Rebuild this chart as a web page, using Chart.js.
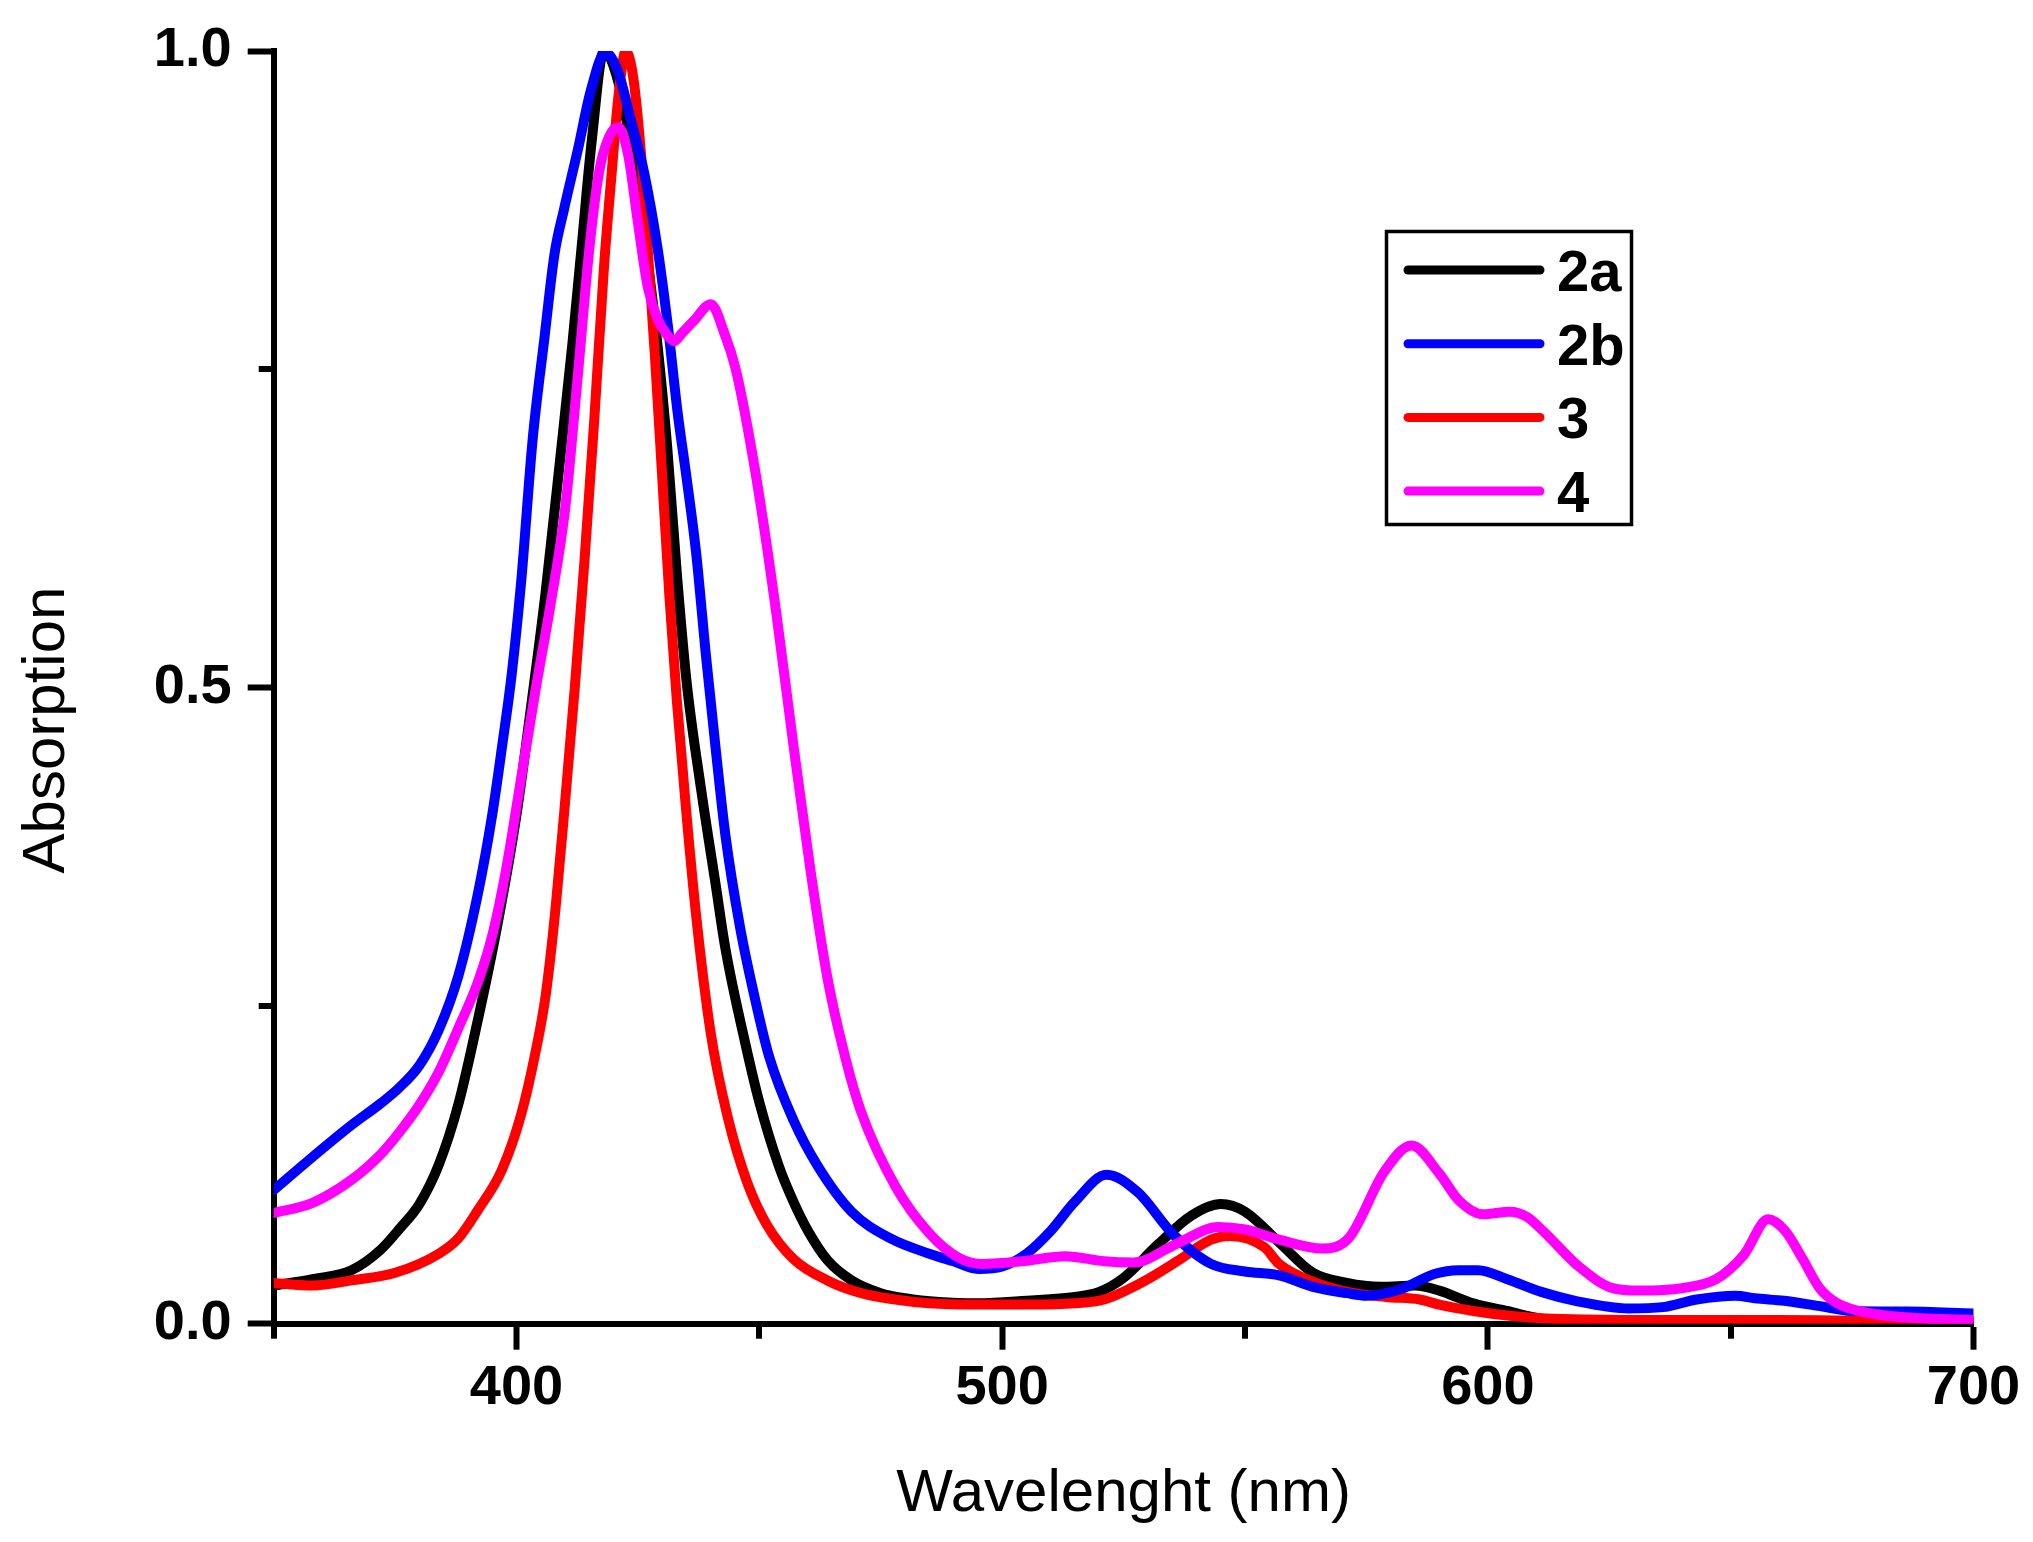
<!DOCTYPE html>
<html>
<head>
<meta charset="utf-8">
<script src="https://cdn.jsdelivr.net/npm/chart.js@4.4.1/dist/chart.umd.min.js"></script>
<style>
html,body{margin:0;padding:0;background:#ffffff;}
#wrap{width:2033px;height:1542px;position:relative;}
</style>
</head>
<body>
<div id="wrap"><canvas id="c" width="2033" height="1542"></canvas></div>
<script>
// ---- data ----
const seriesNames = ['2a', '2b', '3', '4'];
const seriesColors = ['#000000', '#0000ff', '#ff0000', '#ff00ff'];

const wl2a = [350, 358, 366, 372, 376, 380, 384, 388, 392, 396, 400, 403, 406, 409, 411.5, 413.5, 415.5, 418, 421, 424, 427, 429, 431, 433, 435, 438, 441, 443, 447, 450, 454, 457, 460, 464, 469, 475, 480, 487, 495, 505, 515, 520, 525, 532, 539, 545, 550, 557, 564, 571, 578, 585, 590, 597, 604, 611, 620, 640, 670, 700];
const abs2a = [0.030, 0.035, 0.042, 0.058, 0.075, 0.094, 0.125, 0.172, 0.238, 0.312, 0.400, 0.485, 0.575, 0.680, 0.770, 0.850, 0.930, 1.000, 0.975, 0.915, 0.835, 0.770, 0.690, 0.590, 0.505, 0.420, 0.345, 0.295, 0.222, 0.174, 0.124, 0.096, 0.073, 0.050, 0.034, 0.024, 0.020, 0.017, 0.016, 0.018, 0.021, 0.025, 0.036, 0.062, 0.085, 0.094, 0.088, 0.064, 0.040, 0.032, 0.029, 0.030, 0.026, 0.016, 0.010, 0.004, 0.002, 0.001, 0.001, 0.001];

const wl2b = [350, 358, 366, 372, 376, 380, 384, 388, 392, 395, 397, 399, 401, 403.3, 405.7, 407.8, 409.8, 412.6, 415.3, 418.3, 420.8, 423.6, 426.3, 429, 431.1, 433.2, 435, 437, 439, 441, 443, 446, 449, 452, 457, 462, 469, 477, 485, 490, 495, 500, 505, 510, 515, 521.5, 528, 535, 543, 550, 557, 564, 571, 575, 582, 589, 594, 598, 604, 611, 618, 629, 636, 643, 651, 655, 661, 668, 675, 686, 700];
const abs2b = [0.105, 0.131, 0.156, 0.173, 0.186, 0.203, 0.231, 0.273, 0.337, 0.400, 0.453, 0.510, 0.585, 0.694, 0.773, 0.840, 0.876, 0.922, 0.969, 0.999, 0.985, 0.945, 0.904, 0.846, 0.786, 0.715, 0.665, 0.605, 0.525, 0.452, 0.384, 0.312, 0.257, 0.210, 0.160, 0.124, 0.088, 0.067, 0.055, 0.049, 0.043, 0.045, 0.055, 0.073, 0.096, 0.117, 0.103, 0.071, 0.047, 0.041, 0.038, 0.029, 0.024, 0.022, 0.027, 0.039, 0.042, 0.042, 0.035, 0.025, 0.018, 0.012, 0.013, 0.019, 0.022, 0.020, 0.018, 0.014, 0.010, 0.0095, 0.008];

const wl3 = [350, 358, 366, 375, 384, 388, 392, 397, 401, 404, 406, 408, 410, 412, 414, 416, 418, 419.5, 421, 422.5, 424, 425.5, 427, 428.5, 430, 431.5, 433, 435, 437, 440, 443.5, 447.5, 451.5, 457, 464, 471, 478, 485, 495, 505, 515, 521, 526, 530, 536, 543, 547, 554, 557, 564, 571, 579, 586, 590, 597, 605, 612, 630, 660, 700];
const abs3 = [0.032, 0.030, 0.034, 0.040, 0.055, 0.067, 0.089, 0.121, 0.165, 0.215, 0.258, 0.325, 0.410, 0.500, 0.600, 0.710, 0.830, 0.900, 0.965, 1.000, 0.980, 0.925, 0.845, 0.760, 0.665, 0.570, 0.490, 0.400, 0.320, 0.228, 0.162, 0.111, 0.078, 0.051, 0.034, 0.024, 0.019, 0.016, 0.015, 0.015, 0.016, 0.019, 0.027, 0.035, 0.049, 0.066, 0.069, 0.060, 0.047, 0.033, 0.025, 0.021, 0.019, 0.015, 0.010, 0.006, 0.004, 0.003, 0.003, 0.001];

const wl4 = [350, 358, 366, 372, 376, 380, 384, 388, 392, 395, 398, 401, 404, 407, 410, 412.5, 415, 417, 419, 421, 423, 425, 427, 429, 431, 432.5, 434, 436.5, 440, 443, 445, 447, 450, 453.5, 457, 460.5, 464, 467.5, 471, 478, 485, 491, 496, 504, 513, 521, 527, 536, 544.5, 550, 557, 566, 571.5, 578.6, 584.3, 590, 594, 599, 604.5, 608, 611.6, 618.7, 625.7, 631.4, 640, 647, 652.7, 657.7, 661.2, 664.8, 668.3, 672, 679, 690, 700];
const abs4 = [0.087, 0.095, 0.113, 0.133, 0.151, 0.172, 0.198, 0.232, 0.268, 0.305, 0.360, 0.430, 0.500, 0.565, 0.640, 0.740, 0.845, 0.905, 0.932, 0.940, 0.918, 0.865, 0.815, 0.790, 0.777, 0.772, 0.778, 0.788, 0.801, 0.776, 0.752, 0.716, 0.650, 0.558, 0.455, 0.357, 0.272, 0.212, 0.166, 0.108, 0.071, 0.052, 0.047, 0.049, 0.053, 0.049, 0.048, 0.063, 0.076, 0.074, 0.066, 0.059, 0.068, 0.119, 0.140, 0.118, 0.097, 0.086, 0.088, 0.084, 0.072, 0.045, 0.028, 0.026, 0.028, 0.035, 0.054, 0.082, 0.073, 0.051, 0.028, 0.016, 0.008, 0.004, 0.003];

const xMajorTicks = [400, 500, 600, 700];
const xMinorTicks = [350, 450, 550, 650];
const yMajorTicks = [0.0, 0.5, 1.0];
const yMinorTicks = [0.25, 0.75];
const xTitle = 'Wavelenght (nm)';
const yTitle = 'Absorption';

// ---- chart ----
const FONT = '"Liberation Sans", Arial, Helvetica, sans-serif';
const wlList = [wl2a, wl2b, wl3, wl4];
const absList = [abs2a, abs2b, abs3, abs4];
const drawOrder = [3, 1, 2, 0]; // 4 on top, then 2b, 3, 2a

const datasets = seriesNames.map((name, i) => ({
  label: name,
  data: wlList[i].map((w, j) => ({x: w, y: absList[i][j]})),
  borderColor: seriesColors[i],
  backgroundColor: seriesColors[i],
  borderWidth: 10,
  pointRadius: 0,
  fill: false,
  cubicInterpolationMode: 'monotone',
  borderJoinStyle: 'round',
  borderCapStyle: 'round',
  order: drawOrder[i]
}));

const extrasPlugin = {
  id: 'extras',
  afterDraw(chart) {
    const ctx = chart.ctx;
    const xs = chart.scales.x, ys = chart.scales.y;
    const ca = chart.chartArea;
    ctx.save();
    // minor ticks
    ctx.strokeStyle = '#000';
    ctx.lineWidth = 6;
    ctx.lineCap = 'butt';
    xMinorTicks.forEach(v => {
      const px = Math.round(xs.getPixelForValue(v));
      ctx.beginPath();
      ctx.moveTo(px, ca.bottom);
      ctx.lineTo(px, ca.bottom + 15);
      ctx.stroke();
    });
    yMinorTicks.forEach(v => {
      const py = Math.round(ys.getPixelForValue(v));
      ctx.beginPath();
      ctx.moveTo(ca.left, py);
      ctx.lineTo(ca.left - 15, py);
      ctx.stroke();
    });
    // y title
    ctx.fillStyle = '#000';
    ctx.font = '60px ' + FONT;
    ctx.textAlign = 'center';
    ctx.textBaseline = 'alphabetic';
    ctx.translate(64, 730);
    ctx.rotate(-Math.PI / 2);
    ctx.fillText(yTitle, 0, 0);
    ctx.restore();

    // legend
    ctx.save();
    const bx = 1385, by = 230, bw = 248, bh = 296;
    ctx.strokeStyle = '#000';
    ctx.lineWidth = 3.5;
    ctx.strokeRect(bx + 1.5, by + 1.5, bw - 3, bh - 3);
    ctx.font = 'bold 58px ' + FONT;
    ctx.textAlign = 'left';
    ctx.textBaseline = 'alphabetic';
    chart.data.datasets.forEach((ds, i) => {
      const ry = 270 + i * 73.7;
      ctx.strokeStyle = ds.borderColor;
      ctx.lineWidth = 9;
      ctx.lineCap = 'round';
      ctx.beginPath();
      ctx.moveTo(1408, ry);
      ctx.lineTo(1540, ry);
      ctx.stroke();
      ctx.fillStyle = '#000';
      ctx.fillText(ds.label, 1557, ry + 21);
    });
    ctx.restore();
  }
};

new Chart(document.getElementById('c'), {
  type: 'line',
  data: { datasets },
  options: {
    responsive: false,
    devicePixelRatio: 1,
    animation: false,
    events: [],
    layout: { padding: { top: 51, right: 59.5, bottom: 0, left: 0 } },
    plugins: { legend: { display: false }, title: { display: false }, tooltip: { enabled: false } },
    scales: {
      x: {
        type: 'linear',
        position: 'bottom',
        min: 350,
        max: 700,
        afterBuildTicks: (s) => { s.ticks = xMajorTicks.map(v => ({ value: v })); },
        afterFit: (s) => { s.height = 218.3; },
        border: { display: true, width: 6, color: '#000' },
        grid: { drawOnChartArea: false, drawTicks: true, tickLength: 26, tickWidth: 6, tickColor: '#000' },
        ticks: {
          color: '#000',
          padding: 5,
          maxRotation: 0,
          font: { family: FONT, size: 56, weight: 'bold' },
          callback: (v) => String(v)
        },
        title: {
          display: true,
          text: xTitle,
          color: '#000',
          font: { family: FONT, size: 60, weight: 'normal' },
          padding: { top: 0, bottom: 12 }
        }
      },
      y: {
        type: 'linear',
        position: 'left',
        min: 0,
        max: 1,
        afterBuildTicks: (s) => { s.ticks = yMajorTicks.map(v => ({ value: v })); },
        afterFit: (s) => { s.width = 273.7; },
        border: { display: true, width: 6, color: '#000' },
        grid: { drawOnChartArea: false, drawTicks: true, tickLength: 26, tickWidth: 6, tickColor: '#000' },
        ticks: {
          color: '#000',
          padding: 16,
          font: { family: FONT, size: 56, weight: 'bold' },
          callback: (v) => Number(v).toFixed(1)
        },
        title: { display: false }
      }
    }
  },
  plugins: [extrasPlugin]
});
</script>
</body>
</html>
